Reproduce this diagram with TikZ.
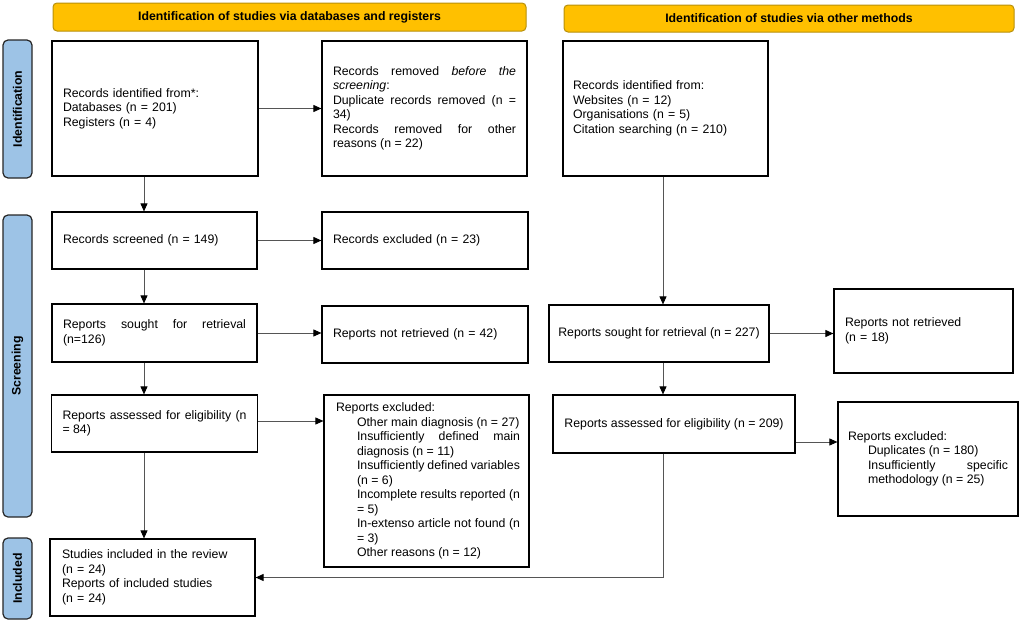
\documentclass[tikz,border=0pt]{standalone}
\usepackage{fontspec}
\setmainfont{Liberation Sans}
\usetikzlibrary{arrows.meta,calc}
\definecolor{banfill}{HTML}{FFC000}
\definecolor{bandraw}{HTML}{B8900A}
\definecolor{sideblue}{HTML}{9DC3E6}
\definecolor{linegray}{HTML}{555555}
\newcommand\boxfont{\fontsize{12.3}{14.5}\selectfont\parindent=0pt\tolerance=10000\hbadness=10000\relax}
\begin{document}
\begin{tikzpicture}[x=1pt,y=-1pt,
  box/.style={draw=black, line width=1.2pt, fill=white, inner xsep=11pt, inner ysep=3pt, font=\boxfont},
  ban/.style={draw=bandraw, line width=1pt, fill=banfill, rounded corners=4pt, inner sep=0pt, font=\boxfont\bfseries},
  side/.style={draw=black!85, line width=1.2pt, fill=sideblue, rounded corners=5pt, rotate=90, minimum height=29pt, inner sep=0pt, font=\boxfont\bfseries},
  arr/.style={draw=linegray, line width=0.9pt, -{Triangle[length=8pt,width=7pt,color=black]}}
]
\useasboundingbox (0,0) rectangle (1021,624);

% banners
\node[ban, minimum width=473pt, minimum height=28pt] (banL) at (289.5,17) {Identification of studies via databases and registers};
\node[ban, minimum width=450pt, minimum height=27pt] (banR) at (789,18.5) {Identification of studies via other methods};

% side labels
\node[side, minimum width=138pt] (sideI) at (17.5,109) {Identification};
\node[side, minimum width=302pt] (sideS) at (17.5,366) {Screening};
\node[side, minimum width=81pt] (sideN) at (17.5,578.5) {Included};

% left column
\node[box, align=left, text width=184pt, minimum height=135pt] (b1) at (155,108.5)
  {Records identified from*:\\Databases (n = 201)\\Registers (n = 4)};
\node[box, align=justify, text width=183pt, minimum height=135pt] (b2) at (424.5,108.5)
  {Records removed \textit{before the}\linebreak\textit{screening}:\par
   Duplicate records removed (n =\linebreak 34)\par
   Records removed for other\linebreak reasons (n = 22)};
\node[box, align=left, inner xsep=10pt, text width=185pt, minimum height=135pt] (b3) at (665.5,108.5)
  {Records identified from:\\Websites (n = 12)\\Organisations (n = 5)\\Citation searching (n = 210)};

\node[box, align=left, text width=183pt, minimum height=57pt] (b4) at (154.5,240.5)
  {Records screened (n = 149)};
\node[box, align=left, text width=184pt, minimum height=57pt] (b5) at (425,240.5)
  {Records excluded (n = 23)};
\node[box, align=justify, text width=183pt, minimum height=58pt] (b6) at (154.5,333)
  {Reports sought for retrieval\linebreak (n=126)};
\node[box, align=left, text width=184pt, minimum height=57pt] (b7) at (425,334.5)
  {Reports not retrieved (n = 42)};
\node[box, align=justify, text width=184pt, minimum height=57pt] (b8) at (154.5,423.5)
  {Reports assessed for eligibility (n\linebreak = 84)};
\node[box, align=justify, inner xsep=9pt, text width=187pt, minimum height=172pt] (b9) at (426.5,481)
  {{\leftskip=3pt Reports excluded:\par}
   {\leftskip=24pt Other main diagnosis (n = 27)\par
   Insufficiently defined main\linebreak diagnosis (n = 11)\par
   Insufficiently defined variables\linebreak (n = 6)\par
   Incomplete results reported (n\linebreak = 5)\par
   In-extenso article not found (n\linebreak = 3)\par
   Other reasons (n = 12)\par}};
\node[box, align=left, inner xsep=12pt, text width=181pt, minimum height=77pt] (b10) at (152.5,577.5)
  {Studies included in the review\\(n = 24)\\Reports of included studies\\(n = 24)};

% right column
\node[box, inner xsep=4pt, minimum width=220pt, minimum height=57pt] (s2) at (659,333.5)
  {Reports sought for retrieval (n = 227)};
\node[box, align=left, inner xsep=11pt, text width=157pt, minimum height=84pt] (s3) at (923.5,331)
  {Reports not retrieved\\(n = 18)};
\node[box, inner xsep=4pt, minimum width=242pt, minimum height=58pt] (s4) at (674,424)
  {Reports assessed for eligibility (n = 209)};
\node[box, align=justify, inner xsep=10pt, text width=160pt, minimum height=114pt] (s5) at (928,459)
  {Reports excluded:\par
   {\leftskip=20pt Duplicates (n = 180)\par
   Insufficiently specific\linebreak methodology (n = 25)\par}};

% connectors
\coordinate (lx) at (144,0);
\coordinate (rx) at (663,0);
\draw[arr] (b1.south -| lx) -- (b4.north -| lx);
\draw[arr] (b1.east) -- (b2.west);
\draw[arr] (b3.south -| rx) -- (s2.north -| rx);
\draw[arr] (b4.east) -- (b5.west);
\draw[arr] (b4.south -| lx) -- (b6.north -| lx);
\draw[arr] (b6.east) -- (b6.east -| b7.west);
\draw[arr] (s2.east) -- (s2.east -| s3.west);
\draw[arr] (b6.south -| lx) -- (b8.north -| lx);
\draw[arr] (s2.south -| rx) -- (s4.north -| rx);
\draw[arr] ([yshift=2.5pt]b8.east) -- ([yshift=2.5pt]b8.east -| b9.west);
\draw[arr] ([yshift=-18pt]s4.east) -- ([yshift=-18pt]s4.east -| s5.west);
\draw[arr] (b8.south -| lx) -- (b10.north -| lx);
\draw[arr] (s4.south -| rx) |- (b10.east);
\end{tikzpicture}
\end{document}
